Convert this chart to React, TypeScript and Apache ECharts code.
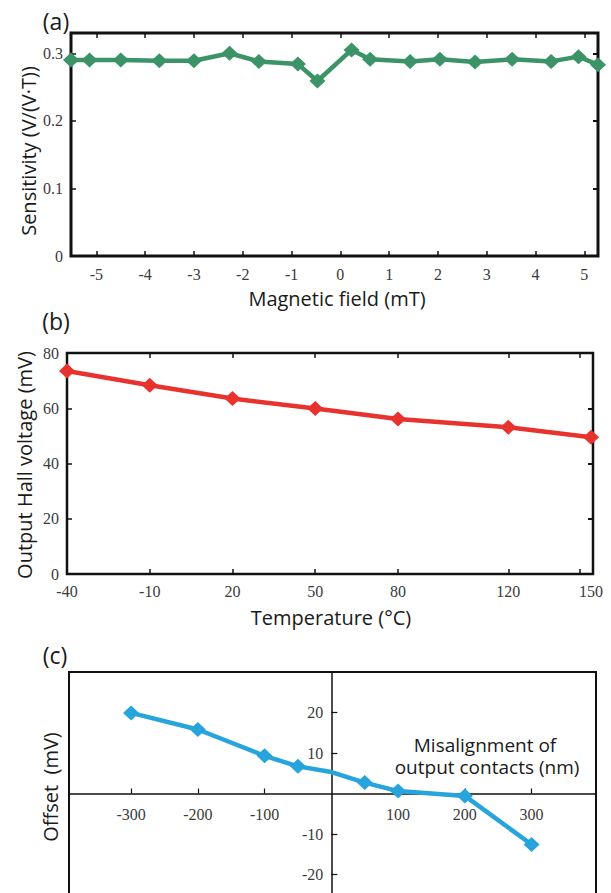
import React, { useEffect, useRef } from "react";
import * as echarts from "echarts";

// ---------- data ----------
// (a) sensitivity vs magnetic field
const fieldA = [-5.52, -5.14, -4.5, -3.71, -3.0, -2.27, -1.67, -0.87, -0.47, 0.23, 0.61, 1.43, 2.04, 2.76, 3.52, 4.32, 4.88, 5.28];
const sensA = [0.29, 0.29, 0.29, 0.289, 0.289, 0.3, 0.288, 0.284, 0.259, 0.305, 0.291, 0.288, 0.291, 0.287, 0.291, 0.288, 0.295, 0.283];
const fieldTicksA = [-5, -4, -3, -2, -1, 0, 1, 2, 3, 4, 5];
const sensLabelsA = [0, 0.1, 0.2, 0.3];
const sensTicksA = [0.1, 0.2, 0.3];

// (b) output Hall voltage vs temperature
const tempB = [-40, -10, 20, 50, 80, 120, 150];
const hallB = [73.5, 68.3, 63.5, 59.9, 56.1, 53.1, 49.5];
const tempLabelsB = [-40, -10, 20, 50, 80, 120, 150];
const tempTicksB = [-10, 20, 50, 80, 120, 146];
const hallLabelsB = [0, 20, 40, 60, 80];
const hallTicksB = [20, 40, 60];

// (c) offset vs misalignment
const misC = [-300, -200, -100, -50, 0, 50, 100, 200, 300];
const offsetC = [19.9, 15.8, 9.3, 6.7, 5.3, 2.7, 0.6, -0.6, -12.6];
const misTicksC = [-300, -200, -100, 100, 200, 300];
const offsetTicksC = [-20, -10, 10, 20];

const GREEN = "#3b9367";
const RED = "#e8322e";
const BLUE = "#27a4dc";
const INK = "#111";
const LABEL_COLOR = "#3a3a3a";
const LABEL_FONT = '"Liberation Serif", "DejaVu Serif", serif';
const NAME_FONT = '"Open Sans", "Noto Sans", sans-serif';

// panel (c) ranges
const C_XMIN = -393;
const C_XMAX = 396.5;
const C_YMIN = -30;
const C_YMAX = 30;

function tickStyle(width: number) {
  return { color: INK, width };
}

export default function App() {
  const ref = useRef<HTMLDivElement>(null);

  useEffect(() => {
    document.body.style.margin = "0";
    if (!ref.current) return;
    const chart = echarts.init(ref.current, null, { renderer: "svg" });

    const lbl = (custom: number[], margin: number) => ({
      show: true,
      customValues: custom,
      margin,
      color: LABEL_COLOR,
      fontFamily: LABEL_FONT,
      fontSize: 16,
    });

    const nameText = (text: string, x: number, y: number, rotate = false, size = 20) => ({
      type: "text",
      x,
      y,
      rotation: rotate ? Math.PI / 2 : 0,
      style: {
        text,
        fontSize: size,
        fontFamily: NAME_FONT,
        fill: "#1a1a1a",
        align: "center",
        verticalAlign: "middle",
      },
    });

    // panel (c) geometry
    const cLeft = 69;
    const cTop = 672;
    const cWidth = 527;
    const cHeight = 243;
    const zeroX = cLeft + ((0 - C_XMIN) / (C_XMAX - C_XMIN)) * cWidth;
    const zeroY = cTop + ((C_YMAX - 0) / (C_YMAX - C_YMIN)) * cHeight;

    const hidden = (gridIndex: number, min: number, max: number) => ({
      gridIndex, type: "value", min, max, show: false,
      axisLine: { onZero: false }, splitLine: { show: false },
    });

    const option: any = {
      animation: false,
      grid: [
        { left: 71, top: 33, width: 527, height: 223, show: true, borderColor: INK, borderWidth: 3, outerBoundsMode: "none" },
        { left: 67, top: 353, width: 526, height: 221, show: true, borderColor: INK, borderWidth: 2.5, outerBoundsMode: "none" },
        { left: cLeft, top: cTop, width: cWidth, height: cHeight, show: true, borderColor: INK, borderWidth: 2, outerBoundsMode: "none" },
        { left: cLeft, top: cTop, width: cWidth, height: zeroY - cTop, show: false, outerBoundsMode: "none" },
        { left: zeroX, top: cTop, width: cLeft + cWidth - zeroX, height: cHeight, show: false, outerBoundsMode: "none" },
      ],
      xAxis: [
        {
          gridIndex: 0, type: "value", min: -5.52, max: 5.28, position: "bottom",
          axisLine: { show: false, onZero: false },
          axisTick: { inside: true, length: 5, customValues: fieldTicksA, lineStyle: tickStyle(1.5) },
          axisLabel: lbl(fieldTicksA, 10),
          splitLine: { show: false },
        },
        {
          gridIndex: 0, type: "value", min: -5.52, max: 5.28, position: "top",
          axisLine: { show: false, onZero: false },
          axisTick: { inside: true, length: 5, customValues: fieldTicksA, lineStyle: tickStyle(1.5) },
          axisLabel: { show: false },
          splitLine: { show: false },
        },
        {
          gridIndex: 1, type: "value", min: -40, max: 150.7, position: "bottom",
          axisLine: { show: false, onZero: false },
          axisTick: { inside: true, length: 5, customValues: tempTicksB, lineStyle: tickStyle(1.5) },
          axisLabel: lbl(tempLabelsB, 9),
          splitLine: { show: false },
        },
        {
          gridIndex: 1, type: "value", min: -40, max: 150.7, position: "top",
          axisLine: { show: false, onZero: false },
          axisTick: { inside: true, length: 5, customValues: tempTicksB, lineStyle: tickStyle(1.5) },
          axisLabel: { show: false },
          splitLine: { show: false },
        },
        hidden(2, C_XMIN, C_XMAX),
        {
          gridIndex: 3, type: "value", min: C_XMIN, max: C_XMAX, position: "bottom",
          axisLine: { show: true, onZero: false, lineStyle: { color: INK, width: 1.5 } },
          axisTick: { inside: true, length: 5, customValues: misTicksC, lineStyle: tickStyle(1.2) },
          axisLabel: lbl(misTicksC, 13),
          splitLine: { show: false },
        },
        hidden(4, 0, 1),
      ],
      yAxis: [
        {
          gridIndex: 0, type: "value", min: 0, max: 0.33, position: "left",
          axisLine: { show: false, onZero: false },
          axisTick: { inside: true, length: 5, customValues: sensTicksA, lineStyle: tickStyle(1.5) },
          axisLabel: lbl(sensLabelsA, 8),
          splitLine: { show: false },
        },
        {
          gridIndex: 0, type: "value", min: 0, max: 0.33, position: "right",
          axisLine: { show: false, onZero: false },
          axisTick: { inside: true, length: 5, customValues: sensTicksA, lineStyle: tickStyle(2) },
          axisLabel: { show: false },
          splitLine: { show: false },
        },
        {
          gridIndex: 1, type: "value", min: 0, max: 80, position: "left",
          axisLine: { show: false, onZero: false },
          axisTick: { inside: true, length: 5, customValues: hallTicksB, lineStyle: tickStyle(1.5) },
          axisLabel: lbl(hallLabelsB, 8),
          splitLine: { show: false },
        },
        {
          gridIndex: 1, type: "value", min: 0, max: 80, position: "right",
          axisLine: { show: false, onZero: false },
          axisTick: { inside: true, length: 5, customValues: hallTicksB, lineStyle: tickStyle(2) },
          axisLabel: { show: false },
          splitLine: { show: false },
        },
        hidden(2, C_YMIN, C_YMAX),
        hidden(3, 0, 1),
        {
          gridIndex: 4, type: "value", min: C_YMIN, max: C_YMAX, position: "left",
          axisLine: { show: true, onZero: false, lineStyle: { color: INK, width: 1.5 } },
          axisTick: { inside: true, length: 6, customValues: offsetTicksC, lineStyle: tickStyle(1.2) },
          axisLabel: lbl(offsetTicksC, 8),
          splitLine: { show: false },
        },
      ],
      series: [
        {
          type: "line", xAxisIndex: 0, yAxisIndex: 0, clip: false,
          data: fieldA.map((x, i) => [x, sensA[i]]),
          symbol: "diamond", symbolSize: [16, 15],
          lineStyle: { color: GREEN, width: 4.5 },
          itemStyle: { color: GREEN },
        },
        {
          type: "line", xAxisIndex: 2, yAxisIndex: 2, clip: false,
          data: tempB.map((x, i) => [x, hallB[i]]),
          symbol: "diamond", symbolSize: [16, 15],
          lineStyle: { color: RED, width: 4.5 },
          itemStyle: { color: RED },
        },
        {
          type: "line", xAxisIndex: 4, yAxisIndex: 4, clip: false,
          data: misC.map((x, i) =>
            x === 0
              ? { value: [x, offsetC[i]], symbol: "none" }
              : { value: [x, offsetC[i]] }
          ),
          symbol: "diamond", symbolSize: [16, 15],
          lineStyle: { color: BLUE, width: 4.5 },
          itemStyle: { color: BLUE },
        },
      ],
      graphic: [
        nameText("(a)", 56, 21, false, 23),
        nameText("Sensitivity (V/(V·T))", 28, 151, true),
        nameText("Magnetic field (mT)", 337, 298),
        nameText("(b)", 56, 321, false, 23),
        nameText("Output Hall voltage (mV)", 24, 465, true),
        nameText("Temperature (°C)", 331, 617),
        nameText("(c)", 55, 655, false, 23),
        nameText("Offset  (mV)", 50, 787, true),
        nameText("Misalignment of", 485, 745, false, 19),
        nameText("output contacts (nm)", 487, 767, false, 19),
      ],
    };

    chart.setOption(option);
    return () => chart.dispose();
  }, []);

  return <div ref={ref} style={{ width: 611, height: 893 }} />;
}
